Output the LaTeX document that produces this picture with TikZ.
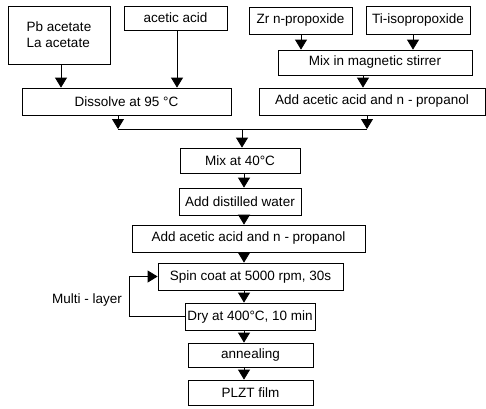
\documentclass[tikz,border=0pt]{standalone}
\usepackage{fontspec}
\setmainfont{Liberation Sans}
\usetikzlibrary{arrows.meta}
\begin{document}
\begin{tikzpicture}[x=1pt,y=-1pt,
  box/.style={draw=black, line width=0.8pt, inner sep=0pt, font=\fontsize{13.5}{16}\selectfont, align=center},
  arr/.style={draw=black, line width=0.8pt, -{Triangle[width=12pt,length=10pt]}},
  ln/.style={draw=black, line width=0.8pt}]
\useasboundingbox (0,0) rectangle (486,408);
% top inputs
\node[box, minimum width=102, minimum height=58, align=left] (pb) at (59,35) {Pb acetate\\La acetate};
\node[box, minimum width=103, minimum height=24] (aa) at (175.5,18) {acetic acid};
\node[box, minimum width=103, minimum height=27] (zr) at (300.5,20.5) {Zr n-propoxide};
\node[box, minimum width=104, minimum height=28] (ti) at (418,20) {Ti-isopropoxide};
\node[box, minimum width=194, minimum height=25] (mix) at (375,62.5) {Mix in magnetic stirrer};
\node[box, minimum width=209, minimum height=27] (diss) at (126.5,101.5) {Dissolve at 95 °C};
\node[box, minimum width=226, minimum height=27] (add1) at (372,101.5) {Add acetic acid and n - propanol};
% main column
\node[box, minimum width=120, minimum height=25] (mixf) at (240,160.5) {Mix at 40°C};
\node[box, minimum width=122, minimum height=27] (water) at (240,201.5) {Add distilled water};
\node[box, minimum width=233, minimum height=27] (add2) at (248.5,238.5) {Add acetic acid and n - propanol};
\node[box, minimum width=185, minimum height=27] (spin) at (250.5,276.5) {Spin coat at 5000 rpm, 30s};
\node[box, minimum width=130, minimum height=27] (dry) at (250,316.5) {Dry at 400°C, 10 min};
\node[box, minimum width=125, minimum height=24] (ann) at (250.5,355) {annealing};
\node[box, minimum width=125, minimum height=25] (plzt) at (250.5,392.5) {PLZT film};
\node[font=\fontsize{13.5}{16}\selectfont, anchor=east, inner sep=0pt] (ml) at (122,300) {Multi - layer};
% coordinates for connectors
\coordinate (xpb) at (61,0);
\coordinate (xaa) at (177,0);
\coordinate (xzr) at (301,0);
\coordinate (xti) at (413,0);
\coordinate (xmix) at (363,0);
\coordinate (jl) at (118,129);
\coordinate (jr) at (367,129);
\coordinate (jc) at (242,129);
\coordinate (xc) at (244,0);
\coordinate (lpx) at (129,0);
% connectors
\draw[arr] (pb.south -| xpb) -- (diss.north -| xpb);
\draw[arr] (aa.south -| xaa) -- (diss.north -| xaa);
\draw[arr] (zr.south -| xzr) -- (mix.north -| xzr);
\draw[arr] (ti.south -| xti) -- (mix.north -| xti);
\draw[arr] (mix.south -| xmix) -- (add1.north -| xmix);
\draw[arr] (diss.south -| jl) -- (jl);
\draw[arr] (add1.south -| jr) -- (jr);
\draw[ln] (jl) -- (jr);
\draw[arr] (jc) -- (mixf.north -| jc);
\draw[arr] (mixf.south -| xc) -- (water.north -| xc);
\draw[arr] (water.south -| xc) -- (add2.north -| xc);
\draw[arr] (add2.south -| xc) -- (spin.north -| xc);
\draw[arr] (spin.south -| xc) -- (dry.north -| xc);
\draw[arr] (dry.south -| xc) -- (ann.north -| xc);
\draw[arr] (ann.south -| xc) -- (plzt.north -| xc);
\draw[arr] (dry.west) -- (dry.west -| lpx) |- (spin.west);
\end{tikzpicture}
\end{document}
